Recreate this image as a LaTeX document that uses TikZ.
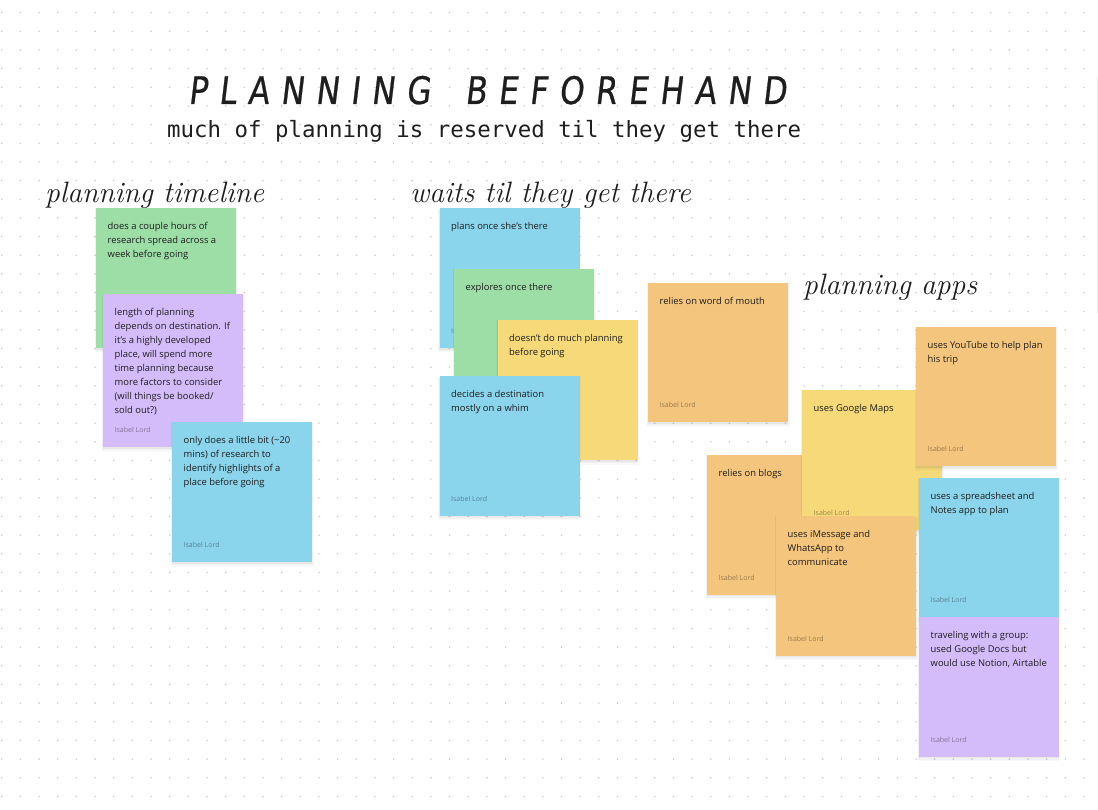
\documentclass[tikz,border=0pt]{standalone}
\usepackage{fontspec}

\newfontfamily\notefont{Open Sans}
\newfontfamily\codefont{DejaVu Sans Mono}
\newfontfamily\capsfont[FakeSlant=0.12,FakeStretch=0.82,FakeBold=0.6]{DejaVu Sans}

\definecolor{ink}{HTML}{1E1E1E}
\definecolor{dotgray}{HTML}{CFCFCF}
\definecolor{stgreen}{HTML}{9CDEA6}
\definecolor{stpurple}{HTML}{D4BBF9}
\definecolor{stblue}{HTML}{8AD4EC}
\definecolor{styellow}{HTML}{F6D978}
\definecolor{storange}{HTML}{F4C57C}

\tikzset{
  sticky/.style={draw=none, fill=#1, anchor=north west, inner sep=0pt},
  shade1/.style={fill=black, fill opacity=0.022},
  shade2/.style={fill=black, fill opacity=0.03},
  shade3/.style={fill=black, fill opacity=0.04},
  stickytext/.style={anchor=north west, inner sep=0pt, align=left, text=ink,
    font=\notefont\fontsize{9.4}{14}\selectfont},
  author/.style={anchor=base west, inner sep=0pt, text=black, text opacity=0.38,
    font=\notefont\fontsize{7}{8}\selectfont},
  script/.style={anchor=base west, inner sep=0pt, text=ink,
    font=\fontsize{29.5}{32}\selectfont\itshape},
}

% name, left, top, width, height, colour, text (note without a visible author line)
\newcommand\stickybare[7]{%
  % soft shadow, strongest just under the lower edge
  \fill[shade1] (#2-1.5, #3+0.5) rectangle (#2+#4+1.5, #3+#5+4.5);
  \fill[shade2] (#2-0.8, #3+1) rectangle (#2+#4+0.8, #3+#5+3);
  \fill[shade3] (#2-0.3, #3+1.5) rectangle (#2+#4+0.3, #3+#5+1.8);
  \node[sticky=#6, minimum width=#4pt, minimum height=#5pt] (#1) at (#2,#3) {};
  \node[stickytext] (#1-text) at ([shift={(11.5,11.9)}]#1.north west) {\strut #7};
}
% same, with the author line at the bottom
\newcommand\stickynote[7]{%
  \stickybare{#1}{#2}{#3}{#4}{#5}{#6}{#7}
  \node[author] (#1-author) at ([shift={(11.5,-14.5)}]#1.south west) {Isabel Lord};
}

\begin{document}
\begin{tikzpicture}[x=1pt, y=-1pt]
  \useasboundingbox (0,0) rectangle (1098,810);
  \fill[white] (0,0) rectangle (1098,810);

  % dotted canvas
  \foreach \i in {0,...,58}
    \foreach \j in {0,...,42}
      \fill[dotgray] (1.7+18.66*\i, 12.7+18.66*\j) circle[radius=0.9pt];

  % edge of a card just off the right border
  \fill[black!7] (1096.6,77) rectangle (1098,313);

  % headings
  \node[anchor=base west, inner sep=0pt, text=ink,
        font=\capsfont\fontsize{38}{40}\selectfont] (title) at (188,104)
    {\makebox[598pt][s]{P\hfil L\hfil A\hfil N\hfil N\hfil I\hfil N\hfil G\hfil\hfil\hfil
      B\hfil E\hfil F\hfil O\hfil R\hfil E\hfil H\hfil A\hfil N\hfil D}};
  \node[anchor=base west, inner sep=0pt, text=ink,
        font=\codefont\fontsize{22.4}{26}\selectfont] (subtitle) at (167,138)
    {much of planning is reserved til they get there};

  \node[script] (h-timeline) at (45,203) {planning timeline};
  \node[script] (h-waits) at (410,203) {waits til they get there};
  \node[script] (h-apps) at (803,295) {planning apps};

  % planning timeline
  \stickybare{tl1}{96}{208}{140}{140}{stgreen}{does a couple hours of\\research spread across a\\week before going}
  \stickynote{tl2}{103}{294}{140}{153}{stpurple}{length of planning\\depends on destination. If\\it’s a highly developed\\place, will spend more\\time planning because\\more factors to consider\\(will things be booked/\\sold out?)}
  \stickynote{tl3}{172}{422}{140}{140}{stblue}{only does a little bit (\textasciitilde 20\\mins) of research to\\identify highlights of a\\place before going}

  % waits til they get there
  \stickynote{w1}{439.5}{208}{140}{140}{stblue}{plans once she’s there}
  \stickybare{w2}{454}{268.5}{140}{140}{stgreen}{explores once there}
  \stickybare{w3}{497.5}{320}{140}{140}{styellow}{doesn’t do much planning\\before going}
  \stickynote{w4}{439.5}{376}{140}{139.5}{stblue}{decides a destination\\mostly on a whim}
  \stickynote{w5}{648}{282.5}{140}{139.5}{storange}{relies on word of mouth}

  % planning apps
  \stickynote{a1}{707}{455}{140}{139.5}{storange}{relies on blogs}
  \stickynote{a2}{802}{390}{140}{140}{styellow}{uses Google Maps}
  \stickynote{a3}{916}{326.5}{140}{139.5}{storange}{uses YouTube to help plan\\his trip}
  \stickynote{a4}{776}{516}{140}{139.5}{storange}{uses iMessage and\\WhatsApp to\\communicate}
  \stickynote{a5}{919}{477.5}{139.5}{139.5}{stblue}{uses a spreadsheet and\\Notes app to plan}
  \stickynote{a6}{919}{617}{139.5}{139.5}{stpurple}{traveling with a group:\\used Google Docs but\\would use Notion, Airtable}
\end{tikzpicture}
\end{document}
